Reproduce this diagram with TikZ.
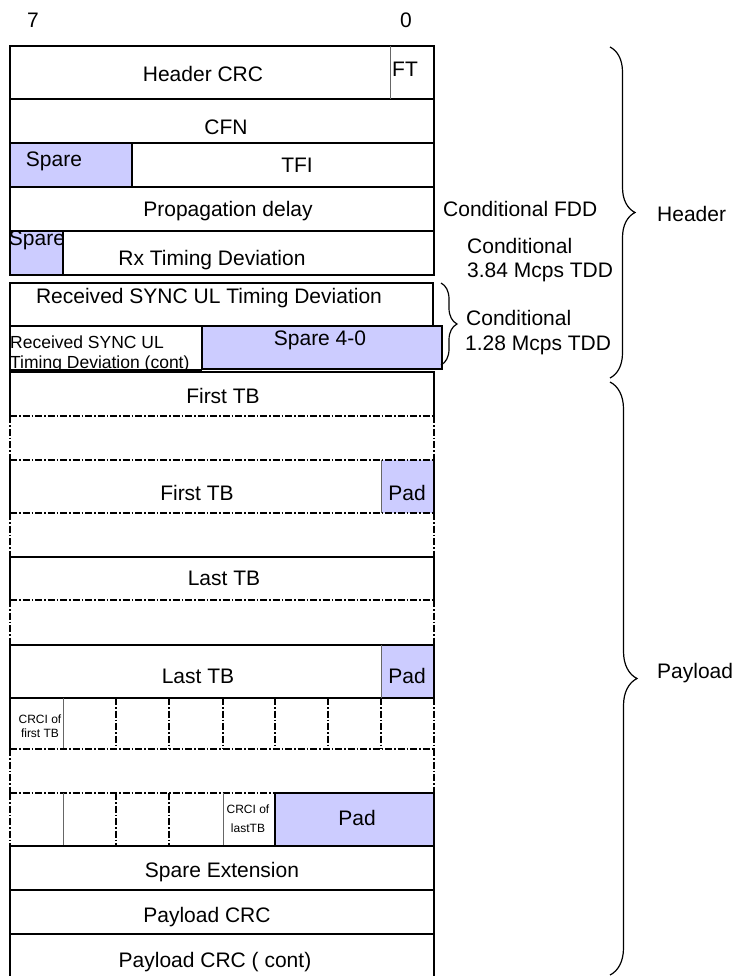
\documentclass[tikz,border=0pt]{standalone}
\usepackage{fontspec}
\setmainfont{Liberation Sans}
\usetikzlibrary{decorations.pathreplacing}
\definecolor{sparefill}{HTML}{CCCCFF}
\begin{document}
\begin{tikzpicture}[x=1pt,y=-1pt,
  solidline/.style={line width=1.2pt, draw=black},
  ddline/.style={line width=1.2pt, draw=black, dash pattern=on 7pt off 2pt on 1.5pt off 2pt},
  thinline/.style={line width=1pt, draw=black!60},
  lbl/.style={font=\fontsize{21}{24}\selectfont, inner sep=0pt, anchor=base},
  lblw/.style={lbl, anchor=base west},
  smalllbl/.style={font=\fontsize{17.5}{20}\selectfont, inner sep=0pt, anchor=base west},
  tinylbl/.style={font=\fontsize{12}{14}\selectfont, inner sep=0pt, anchor=base},
  bracestyle/.style={line width=1.2pt, decorate, decoration={brace, amplitude=#1}}
]
\useasboundingbox (0,0) rectangle (734,976);

% ---------- fills ----------
\fill[sparefill] (10,143) rectangle (132,187);
\fill[sparefill] (10,231) rectangle (63,275);
\fill[sparefill] (202,326) rectangle (442,369);
\fill[sparefill] (381,460) rectangle (434,513);
\fill[sparefill] (381,645) rectangle (434,698);
\fill[sparefill] (275,793) rectangle (434,846);

% ---------- header fields ----------
\draw[solidline] (10,46) rectangle (434,275);
\foreach \yy in {99,143,187,231} \draw[solidline] (10,\yy) -- (434,\yy);
\draw[thinline] (390,46) -- (390,99);
\draw[solidline] (132,143) -- (132,187);
\draw[solidline] (63,231) -- (63,275);

\draw[solidline] (10,283) rectangle (433,326);
\draw[solidline] (10,326) -- (10,370) -- (202,370);
\draw[solidline] (202,326) rectangle (442,369);

% ---------- payload fields ----------
\draw[solidline] (10,416) -- (10,372) -- (434,372) -- (434,416);
\draw[ddline] (10,416) -- (434,416);
\draw[ddline] (10,416) -- (10,460);
\draw[ddline] (434,416) -- (434,460);
\draw[ddline] (10,460) -- (434,460);
\draw[solidline] (10,460) -- (10,513);
\draw[solidline] (434,460) -- (434,513);
\draw[thinline] (381,460) -- (381,513);
\draw[ddline] (10,513) -- (434,513);
\draw[ddline] (10,513) -- (10,557);
\draw[ddline] (434,513) -- (434,557);
\draw[solidline] (10,600) -- (10,557) -- (434,557) -- (434,600);
\draw[ddline] (10,600) -- (434,600);
\draw[ddline] (10,600) -- (10,645);
\draw[ddline] (434,600) -- (434,645);
\draw[solidline] (10,645) rectangle (434,698);
\draw[thinline] (381,645) -- (381,698);

% CRCI row 1
\draw[solidline] (10,698) -- (10,749);
\draw[ddline] (434,698) -- (434,749);
\draw[thinline] (63,698) -- (63,749);
\foreach \xx in {116,169,223,275,328,381} \draw[ddline] (\xx,698) -- (\xx,749);
\draw[ddline] (10,749) -- (434,749);
\draw[ddline] (10,749) -- (10,793);
\draw[ddline] (434,749) -- (434,793);
\draw[ddline] (10,793) -- (275,793);

% CRCI row 2
\draw[ddline] (10,793) -- (10,846);
\draw[thinline] (63,793) -- (63,846);
\foreach \xx in {116,169} \draw[ddline] (\xx,793) -- (\xx,846);
\draw[thinline] (223,793) -- (223,846);
\draw[solidline] (275,793) rectangle (434,846);

\draw[solidline] (10,846) rectangle (434,890);
\draw[solidline] (10,890) rectangle (434,934);
\draw[solidline] (10,934) -- (10,976);
\draw[solidline] (434,934) -- (434,976);

% ---------- texts ----------
\node[lbl] (b7) at (33,28) {7};
\node[lbl] (b0) at (406,28) {0};
\node[lbl] (hcrc) at (203,82) {Header CRC};
\node[lbl] (ft) at (405,77) {FT};
\node[lbl] (cfn) at (226,135) {CFN};
\node[lbl] (sp1) at (54,167) {Spare};
\node[lbl] (tfi) at (297,173) {TFI};
\node[lbl] (prop) at (228,217) {Propagation delay};
\node[lbl] (sp2) at (37,245) {Spare};
\node[lbl] (rxtd) at (212,265) {Rx Timing Deviation};
\node[lbl] (sync) at (209,303) {Received SYNC UL Timing Deviation};
\node[smalllbl] (syncc1) at (10,348) {Received SYNC UL};
\node[smalllbl] (syncc2) at (10,368) {Timing Deviation (cont)};
\node[lbl] (sp40) at (320,345) {Spare 4-0};

\node[lbl] (ftb1) at (223,403) {First TB};
\node[lbl] (ftb2) at (197,500) {First TB};
\node[lbl] (pad1) at (407,500) {Pad};
\node[lbl] (ltb1) at (224,585) {Last TB};
\node[lbl] (ltb2) at (198,683) {Last TB};
\node[lbl] (pad2) at (407,683) {Pad};
\node[tinylbl] (crci1a) at (40,723) {CRCI of};
\node[tinylbl] (crci1b) at (40,737) {first TB};
\node[tinylbl] (crci2a) at (248,813) {CRCI of};
\node[tinylbl] (crci2b) at (248,832) {lastTB};
\node[lbl] (pad3) at (357,825) {Pad};
\node[lbl] (spext) at (222,877) {Spare Extension};
\node[lbl] (pcrc) at (207,922) {Payload CRC};
\node[lbl] (pcrc2) at (215,967) {Payload CRC ( cont)};

\node[lblw] (cfdd) at (443,217) {Conditional FDD};
\node[lblw] (c384a) at (467,253) {Conditional};
\node[lblw] (c384b) at (467,277) {3.84 Mcps TDD};
\node[lblw] (c128a) at (466,325) {Conditional};
\node[lblw] (c128b) at (465,350) {1.28 Mcps TDD};
\node[lblw] (hdr) at (657,222) {Header};
\node[lblw] (pld) at (657,678) {Payload};

% ---------- braces ----------
\coordinate (hbt) at (610,47);
\coordinate (hbb) at (610,378);
\coordinate (pbt) at (610,382);
\coordinate (pbb) at (610,975);
\coordinate (sbt) at (441,283);
\coordinate (sbb) at (441,365);
\draw[bracestyle=25pt] (hbt) -- (hbb);
\draw[bracestyle=27pt] (pbt) -- (pbb);
\draw[bracestyle=16pt] (sbt) -- (sbb);
\end{tikzpicture}
\end{document}
